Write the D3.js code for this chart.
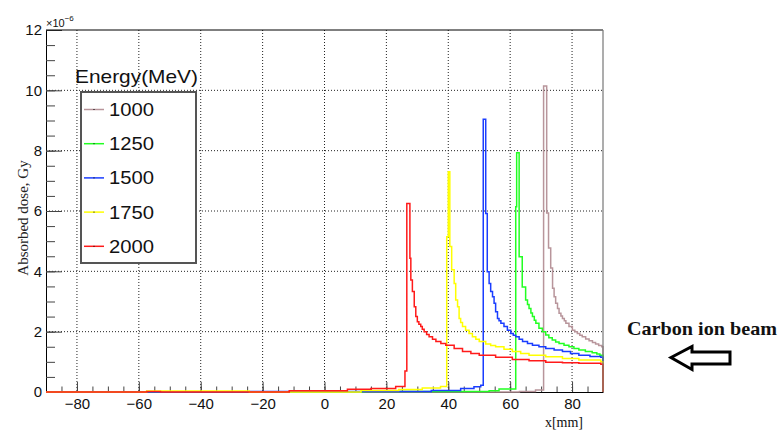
<!DOCTYPE html>
<html>
<head>
<meta charset="utf-8">
<script src="https://cdn.jsdelivr.net/npm/d3@7"></script>
<style>
  body { margin: 0; background: #fff; }
</style>
</head>
<body>
<div id="chart"></div>
<script>
// Legend labels and line colours
const energies = ["1000", "1250", "1500", "1750", "2000"];
const colors = ["#b8959b", "#22ff22", "#1a3dff", "#ffff00", "#ff1a1a"];

// Histogram steps: [left bin edge in mm, absorbed dose in 1e-6 Gy]
const dose1000 = [[-90, 0], [63, 0.02], [68.2, 0.07], [70.8, 10.14], [71.8, 5.93], [72.4, 4.77], [73.1, 4.11],
  [73.7, 3.44], [74.2, 3.16], [74.7, 2.94], [75.3, 2.77], [75.8, 2.61], [76.4, 2.52], [76.9, 2.44], [77.5, 2.36],
  [78.0, 2.28], [79.0, 2.17], [80.1, 2.05], [80.9, 2.0], [81.7, 1.94], [82.5, 1.88], [83.3, 1.83], [84.4, 1.76],
  [85.5, 1.7], [86.6, 1.64], [87.6, 1.59], [88.6, 1.54], [89.6, 1.5]];
const dose1250 = [[-90, 0], [5, 0.01], [13, 0.02], [53.2, 0.04], [56.4, 0.1], [61.8, 6.14], [62.1, 7.93], [62.9, 4.48],
  [63.9, 3.48], [65.0, 3.05], [65.6, 2.9], [66.1, 2.77], [66.7, 2.62], [67.2, 2.5], [67.8, 2.38], [68.3, 2.28],
  [69.3, 2.11], [70.4, 2.0], [71.5, 1.89], [72.5, 1.8], [73.6, 1.72], [74.7, 1.66], [75.8, 1.61], [77.4, 1.55],
  [79.0, 1.5], [80.6, 1.44], [82.2, 1.39], [84.3, 1.34], [86.5, 1.3], [88.0, 1.26], [89.0, 1.22]];
const dose1500 = [[-90, 0], [-24.3, 0.02], [34.5, 0.05], [44.0, 0.12], [48.3, 0.17], [50.5, 0.22], [51.3, 9.04],
  [52.1, 5.92], [52.6, 3.99], [53.2, 3.6], [53.7, 3.33], [54.3, 3.16], [54.8, 2.94], [55.3, 2.66], [55.9, 2.44],
  [56.4, 2.36], [57.0, 2.28], [58.0, 2.17], [59.1, 2.05], [60.2, 1.94], [61.0, 1.88], [61.8, 1.83], [62.9, 1.75],
  [64.0, 1.67], [65.6, 1.61], [67.2, 1.55], [69.3, 1.5], [71.5, 1.44], [74.2, 1.39], [76.9, 1.34], [79.5, 1.28],
  [82.2, 1.22], [85.8, 1.18], [89.3, 1.15]];
const dose1750 = [[-90, 0], [-57.5, 0.03], [-24.3, 0], [11.8, 0.05], [24, 0.08], [31.6, 0.13], [37.5, 0.18],
  [39.5, 5.15], [40.0, 7.3], [40.5, 4.82], [41.1, 4.05], [41.9, 3.6], [42.4, 3.05], [43.0, 2.83], [43.5, 2.44],
  [44.0, 2.3], [44.6, 2.17], [45.6, 2.05], [46.7, 1.94], [47.8, 1.83], [48.9, 1.75], [50.0, 1.67], [52.1, 1.59],
  [53.7, 1.54], [55.3, 1.5], [58.0, 1.42], [60.7, 1.34], [63.4, 1.28], [66.1, 1.22], [71.5, 1.17], [76.9, 1.11],
  [82.2, 1.06], [89.3, 1.0]];
const dose2000 = [[-90, 0], [-57.4, 0.02], [-53, 0], [-11.4, 0.04], [7.4, 0.09], [15, 0.12], [23, 0.18],
  [26.0, 0.7], [26.6, 6.25], [27.6, 4.43], [27.9, 3.71], [28.4, 3.33], [29.0, 2.83], [29.5, 2.5], [30.0, 2.33],
  [30.5, 2.25], [31.1, 2.17], [31.6, 2.08], [32.2, 2.0], [33.0, 1.91], [33.8, 1.83], [34.9, 1.75], [36.0, 1.67],
  [37.6, 1.61], [39.2, 1.55], [41.9, 1.44], [44.6, 1.34], [47.3, 1.28], [50.0, 1.22], [55.3, 1.15], [60.7, 1.08],
  [66.1, 1.04], [71.5, 0.99], [76.9, 0.97], [82.2, 0.95], [89.3, 0.92]];
const allDose = [dose1000, dose1250, dose1500, dose1750, dose2000];

// Axis ticks
const xMajor = [-80, -60, -40, -20, 0, 20, 40, 60, 80];
const xMinor = d3.range(-85, 90, 5);
const yMajor = [0, 2, 4, 6, 8, 10, 12];
const yMinor = d3.range(0, 12, 0.5);

const width = 778;
const height = 430;

const svg = d3.select("#chart")
  .append("svg")
  .attr("width", width)
  .attr("height", height);

const x = d3.scaleLinear().domain([-90, 90]).range([46, 603]);
const y = d3.scaleLinear().domain([0, 12]).range([392, 30]);

// dotted grid
svg.append("g")
  .selectAll("line")
  .data(xMajor)
  .join("line")
  .attr("x1", d => x(d)).attr("x2", d => x(d))
  .attr("y1", y(12)).attr("y2", y(0))
  .attr("stroke", "#222").attr("stroke-dasharray", "1,2");
svg.append("g")
  .selectAll("line")
  .data(yMajor.filter(d => d > 0 && d < 12))
  .join("line")
  .attr("x1", x(-90)).attr("x2", x(90))
  .attr("y1", d => y(d)).attr("y2", d => y(d))
  .attr("stroke", "#222").attr("stroke-dasharray", "1,2");

// x axis
const gx = svg.append("g")
  .attr("transform", `translate(0,${y(0)})`)
  .call(d3.axisBottom(x).tickValues(xMajor).tickSizeInner(-10).tickSizeOuter(0)
    .tickPadding(6).tickFormat(d3.format("d")));
gx.append("g")
  .call(d3.axisBottom(x).tickValues(xMinor).tickSize(-5.5).tickFormat(""))
  .select(".domain").remove();

// y axis
const gy = svg.append("g")
  .attr("transform", `translate(${x(-90)},0)`)
  .call(d3.axisLeft(y).tickValues(yMajor).tickSizeInner(-16).tickSizeOuter(0).tickPadding(4));
gy.append("g")
  .call(d3.axisLeft(y).tickValues(yMinor).tickSize(-9).tickFormat(""))
  .select(".domain").remove();

svg.selectAll(".tick line").attr("stroke", "#444");
svg.selectAll(".domain").attr("stroke", "#000");
svg.selectAll(".tick text")
  .attr("font-family", "Liberation Sans, Arial, sans-serif")
  .attr("font-size", 15)
  .attr("fill", "#111");

// exponent label
const expo = svg.append("text")
  .attr("x", x(-90)).attr("y", 27)
  .attr("font-family", "Liberation Sans, Arial, sans-serif")
  .attr("font-size", 11).attr("fill", "#111")
  .text("×10");
expo.append("tspan").attr("dy", -6).attr("font-size", 8).text("−6");

// axis titles
svg.append("text")
  .attr("transform", "translate(28,218) rotate(-90)")
  .attr("text-anchor", "middle")
  .attr("font-family", "Liberation Serif, Times New Roman, serif")
  .attr("font-size", 15)
  .attr("fill", "#222")
  .text("Absorbed dose, Gy");

svg.append("text")
  .attr("x", 583).attr("y", 427)
  .attr("text-anchor", "end")
  .attr("font-family", "Liberation Serif, Times New Roman, serif")
  .attr("font-size", 14)
  .attr("fill", "#111")
  .text("x[mm]");

// histograms, drawn as steps
const line = d3.line()
  .x(d => x(d[0]))
  .y(d => y(d[1]))
  .curve(d3.curveStepAfter);

allDose.forEach((s, i) => {
  const pts = s.concat([[90, s[s.length - 1][1]], [90, 0]]);
  svg.append("path")
    .datum(pts)
    .attr("fill", "none")
    .attr("stroke", colors[i])
    .attr("stroke-width", 1.5)
    .attr("d", line);
});

// frame top and right
svg.append("line")
  .attr("x1", x(-90)).attr("x2", x(90)).attr("y1", y(12)).attr("y2", y(12))
  .attr("stroke", "#000");
svg.append("line")
  .attr("x1", x(90)).attr("x2", x(90)).attr("y1", y(12)).attr("y2", y(0))
  .attr("stroke", "#777").attr("stroke-width", 2).attr("stroke-opacity", 0.6);

// legend
svg.append("text")
  .attr("x", 75).attr("y", 82.5)
  .attr("font-family", "Liberation Sans, Arial, sans-serif")
  .attr("font-size", 19)
  .attr("textLength", 123).attr("lengthAdjust", "spacingAndGlyphs")
  .attr("fill", "#111")
  .text("Energy(MeV)");

svg.append("rect")
  .attr("x", 81).attr("y", 92)
  .attr("width", 115).attr("height", 171)
  .attr("fill", "#fff")
  .attr("stroke", "#555")
  .attr("stroke-width", 2);

const item = svg.append("g")
  .selectAll("g")
  .data(energies)
  .join("g")
  .attr("transform", (d, i) => `translate(0,${109.5 + i * 34.2})`);
item.append("line")
  .attr("x1", 84).attr("x2", 104)
  .attr("stroke", (d, i) => colors[i])
  .attr("stroke-width", 1.5);
item.append("rect")
  .attr("x", 93.5).attr("y", -0.5).attr("width", 1).attr("height", 1)
  .attr("fill", "#000");
item.append("text")
  .attr("x", 109).attr("y", 6.5)
  .attr("font-family", "Liberation Sans, Arial, sans-serif")
  .attr("font-size", 19)
  .attr("textLength", 45).attr("lengthAdjust", "spacingAndGlyphs")
  .attr("fill", "#111")
  .text(d => d);

// beam annotation
svg.append("text")
  .attr("x", 627).attr("y", 335)
  .attr("font-family", "Liberation Serif, Times New Roman, serif")
  .attr("font-weight", "bold")
  .attr("font-size", 19)
  .attr("textLength", 150).attr("lengthAdjust", "spacingAndGlyphs")
  .attr("fill", "#111")
  .text("Carbon ion beam");

svg.append("polygon")
  .attr("points", "671,357.5 692,346.5 692,352 730,352 730,364 692,364 692,369.5")
  .attr("fill", "#fff")
  .attr("stroke", "#000")
  .attr("stroke-width", 3)
  .attr("stroke-linejoin", "miter");
</script>
</body>
</html>
